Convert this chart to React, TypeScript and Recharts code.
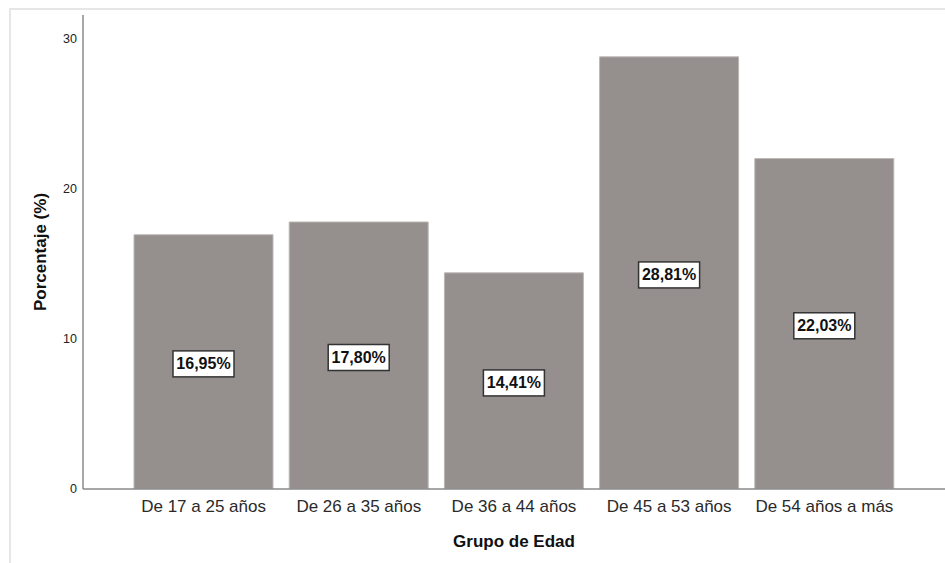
import React from 'react';
import { BarChart, Bar, XAxis, YAxis, Label, LabelList } from 'recharts';

const categories = [
  'De 17 a 25 años',
  'De 26 a 35 años',
  'De 36 a 44 años',
  'De 45 a 53 años',
  'De 54 años a más',
];
const percentages = [16.95, 17.8, 14.41, 28.81, 22.03];
const yTicks = [0, 10, 20, 30];

const data = categories.map((c, i) => ({ category: c, value: percentages[i] }));

const FONT = '"Liberation Sans", Arial, Helvetica, sans-serif';

const ValueLabel = (props: any) => {
  const { x, y, width, height, value } = props;
  const cx = Number(x) + Number(width) / 2;
  const cy = Number(y) + Number(height) / 2 + 2;
  const text = Number(value).toFixed(2).replace('.', ',') + '%';
  return (
    <g>
      <rect x={cx - 30.5} y={cy - 13} width={61} height={26} fill="#ffffff" stroke="#333333" strokeWidth={1.5} />
      <text
        x={cx}
        y={cy}
        textAnchor="middle"
        dominantBaseline="central"
        fontSize={16}
        fontWeight="bold"
        fontFamily={FONT}
        fill="#111111"
      >
        {text}
      </text>
    </g>
  );
};

const YTitle = (props: any) => {
  const vb = props.viewBox || { x: 0, y: 15, width: 83, height: 474 };
  const x = vb.x + 46;
  const cy = vb.y + vb.height / 2;
  return (
    <text
      x={x}
      y={cy}
      transform={`rotate(-90, ${x}, ${cy})`}
      textAnchor="middle"
      fontSize={17}
      fontWeight="bold"
      fontFamily={FONT}
      fill="#111111"
    >
      Porcentaje (%)
    </text>
  );
};

export default function App() {
  return (
    <div style={{ position: 'absolute', left: 0, top: 0, width: 945, height: 563, overflow: 'hidden', background: '#fff' }}>
      <div
        style={{
          position: 'absolute',
          left: 9,
          top: 8,
          width: 1000,
          height: 1000,
          border: '2px solid #e6e6e6',
        }}
      />
      <div style={{ position: 'absolute', left: 0, top: 0 }}>
        <BarChart
          width={945}
          height={563}
          data={data}
          margin={{ top: 15, right: 0, bottom: 0, left: 0 }}
        >
          <XAxis
            dataKey="category"
            height={74}
            padding={{ left: 43, right: 43 }}
            axisLine={{ stroke: '#8a8a8a', strokeWidth: 1.5 }}
            tickLine={false}
            tickSize={4}
            tickMargin={7}
            interval={0}
            tick={{ fontSize: 17, fill: '#2a2a2a', fontFamily: FONT }}
          >
            <Label
              value="Grupo de Edad"
              position="insideBottom"
              offset={16}
              style={{ fontSize: 17, fontWeight: 'bold', fill: '#111111', fontFamily: FONT }}
            />
          </XAxis>
          <YAxis
            width={83}
            domain={[0, 31.6]}
            ticks={yTicks}
            allowDataOverflow
            axisLine={{ stroke: '#8a8a8a', strokeWidth: 1.5 }}
            tickLine={false}
            tickSize={4}
            tickMargin={2}
            tick={{ fontSize: 12.5, fill: '#222222', fontFamily: FONT }}
          >
            <Label content={<YTitle />} />
          </YAxis>
          <Bar
            dataKey="value"
            fill="#958f8e"
            stroke="#bcb8b7"
            strokeWidth={1}
            barSize={139}
            isAnimationActive={false}
          >
            <LabelList dataKey="value" content={<ValueLabel />} />
          </Bar>
        </BarChart>
      </div>
    </div>
  );
}
